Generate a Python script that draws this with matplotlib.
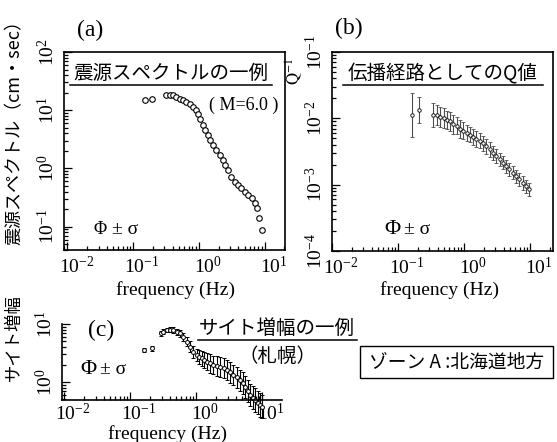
import numpy as np
import matplotlib
matplotlib.use('Agg')
import matplotlib.pyplot as plt
import matplotlib.transforms as mtrans
from matplotlib.lines import Line2D
from matplotlib.patches import Rectangle
from matplotlib.ticker import LogLocator

# (a) source spectrum
a_freq = [0.150, 0.197, 0.313, 0.361, 0.405, 0.456, 0.512, 0.575, 0.648, 0.727,
          0.816, 0.919, 0.973, 1.03, 1.16, 1.23, 1.38, 1.47, 1.64, 1.85,
          2.08, 2.34, 2.48, 2.78, 3.13, 3.52, 3.95, 4.45, 5.00, 5.61,
          6.32, 7.09, 7.6, 8.2, 9.2]
a_amp = [14.9, 15.5, 18.1, 18.6, 18.1, 16.9, 15.9, 14.9, 13.9, 12.7,
         11.4, 10.0, 8.77, 7.21, 5.53, 4.54, 3.73, 3.06, 2.51, 2.06,
         1.69, 1.39, 1.14, 0.935, 0.718, 0.589, 0.518, 0.454, 0.397, 0.349,
         0.306, 0.251, 0.206, 0.14, 0.088]

# (b) Q^-1 of the path
b_freq = [0.165, 0.210, 0.343,
          0.389, 0.437, 0.490, 0.550, 0.617, 0.692, 0.776, 0.871, 0.977, 1.096,
          1.230, 1.380, 1.549, 1.738, 1.950, 2.188, 2.455, 2.754, 3.090, 3.467,
          3.890, 4.365, 4.898, 5.495, 6.166, 6.918, 7.762, 8.710, 9.772]
b_q = [0.0113, 0.0134, 0.0113,
       0.0114, 0.0106, 0.0102, 0.0094, 0.0090, 0.0081, 0.0077, 0.0069, 0.0065, 0.0060,
       0.0057, 0.0052, 0.0049, 0.0046, 0.0042, 0.0038, 0.0034, 0.0030, 0.0027, 0.0024,
       0.00215, 0.0019, 0.0017, 0.00152, 0.00134, 0.0012, 0.00106, 0.00095, 0.00085]
b_sig = [0.33, 0.20, 0.18,
         0.15, 0.15, 0.15, 0.14, 0.14, 0.14, 0.13, 0.13, 0.13, 0.12,
         0.12, 0.12, 0.12, 0.11, 0.11, 0.11, 0.11, 0.11, 0.10, 0.10,
         0.10, 0.10, 0.10, 0.10, 0.10, 0.10, 0.10, 0.10, 0.10]

# (c) site amplification (Sapporo)
c_freq = [0.163, 0.213,
          0.292, 0.320, 0.360, 0.404, 0.453, 0.510, 0.573, 0.643, 0.723, 0.811,
          0.910, 1.03, 1.12, 1.22, 1.33, 1.45, 1.62, 1.83, 2.04, 2.31,
          2.60, 2.92, 3.27, 3.67, 4.12, 4.64, 5.07, 5.52, 6.03, 6.58,
          7.18, 7.83, 8.55, 9.33, 9.89]
c_amp = [3.56, 3.81,
         6.92, 7.36, 7.89, 8.0, 7.8, 7.36, 6.92, 6.04, 4.95, 4.06,
         3.33, 2.92, 2.72, 2.56, 2.40, 2.24, 2.09, 1.96, 1.91, 1.84,
         1.72, 1.61, 1.46, 1.32, 1.20, 1.08, 0.955, 0.83, 0.71, 0.60,
         0.54, 0.49, 0.44, 0.40, 0.375]
c_sig = [0.04, 0.04,
         0.04, 0.04, 0.04, 0.04, 0.05, 0.05, 0.06, 0.07, 0.08, 0.09,
         0.10, 0.11, 0.12, 0.13, 0.14, 0.15, 0.16, 0.16, 0.17, 0.17,
         0.17, 0.17, 0.18, 0.18, 0.18, 0.18, 0.19, 0.19, 0.19, 0.19,
         0.20, 0.20, 0.20, 0.20, 0.20]

freq_ticks = [1e-2, 1e-1, 1e0, 1e1]

plt.rcParams['font.family'] = ['Liberation Serif', 'Noto Sans CJK JP']
plt.rcParams['mathtext.fontset'] = 'stix'

W, H = 557, 442
CJK = ['Noto Sans CJK JP', 'DejaVu Sans']


def fx(x):
    return x / W


def fy(y):
    return 1 - y / H


def log_err(y, s):
    y = np.asarray(y)
    s = np.asarray(s)
    return [y - y * 10 ** (-s), y * 10 ** s - y]


fig = plt.figure(figsize=(W / 100, H / 100), dpi=100)
shift_x = mtrans.ScaledTranslation(9 / 100, 0, fig.dpi_scale_trans)


def style(ax, xlim, ylim, yticks, xpad=4):
    ax.set_xscale('log')
    ax.set_yscale('log')
    ax.set_xlim(*xlim)
    ax.set_ylim(*ylim)
    ax.set_xticks(freq_ticks)
    ax.set_yticks(yticks)
    minor = LogLocator(base=10, subs=np.arange(2, 10), numticks=30)
    ax.xaxis.set_minor_locator(minor)
    ax.yaxis.set_minor_locator(LogLocator(base=10, subs=np.arange(2, 10), numticks=30))
    ax.set_xlim(*xlim)
    ax.set_ylim(*ylim)
    ax.tick_params(which='both', direction='in', top=False, right=False,
                   labelsize=14, width=0.9)
    ax.tick_params(which='major', length=6, pad=4)
    ax.tick_params(axis='x', which='major', pad=xpad)
    ax.tick_params(which='minor', length=3)
    for lab in ax.get_yticklabels():
        lab.set_rotation(90)
        lab.set_va('center')
    for lab in ax.get_xticklabels():
        lab.set_transform(lab.get_transform() + shift_x)
    for sp in ax.spines.values():
        sp.set_linewidth(1.2)


ax_a = fig.add_axes([fx(64), fy(250), (285 - 64) / W, (250 - 52) / H])
ax_b = fig.add_axes([fx(332), fy(251), (553 - 332) / W, (251 - 52) / H])
ax_c = fig.add_axes([fx(62), fy(400), (282 - 62) / W, (400 - 324) / H])

ax_a.plot(a_freq, a_amp, 'o', ms=4, mfc='white', mec='black', mew=0.8)
style(ax_a, (10 ** -2.05, 10 ** 1.31), (10 ** -1.4, 10 ** 2), [1e-1, 1e0, 1e1, 1e2])

ax_b.errorbar(b_freq, b_q, yerr=log_err(b_q, b_sig), fmt='o', ms=2.5,
              mfc='white', mec='black', mew=0.6, ecolor='0.3', elinewidth=0.8,
              capsize=1.2, capthick=0.5)
style(ax_b, (10 ** -2, 10 ** 1.35), (1e-4, 1e-1), [1e-4, 1e-3, 1e-2, 1e-1])

ax_c.errorbar(c_freq, c_amp, yerr=log_err(c_amp, c_sig), fmt='o', ms=2.8,
              mfc='white', mec='black', mew=0.7, ecolor='black', elinewidth=0.8,
              capsize=1.2, capthick=0.5, clip_on=False)
style(ax_c, (10 ** -2.03, 10 ** 1.30), (10 ** -0.31, 10 ** 1), [1e0, 1e1], xpad=2)
ax_c.spines['top'].set_visible(False)
ax_c.spines['right'].set_visible(False)

# x labels
for x, y in [(175, 290), (440, 290), (167, 434)]:
    fig.text(fx(x), fy(y), 'frequency (Hz)', fontsize=14, ha='center', va='center')

# panel letters
fig.text(fx(90), fy(30), '(a)', fontsize=17, ha='center', va='center')
fig.text(fx(349), fy(28), '(b)', fontsize=17, ha='center', va='center')
fig.text(fx(101), fy(330), '(c)', fontsize=17, ha='center', va='center')

# y labels
fig.text(fx(15), fy(128), '震源スペクトル（cm・sec）', fontsize=13, family=CJK,
         rotation=90, ha='center', va='center')
fig.text(fx(294), fy(72), r'$\mathrm{Q}^{-1}$', fontsize=12,
         rotation=90, ha='center', va='center')
fig.text(fx(14), fy(338), 'サイト増幅', fontsize=12.5, family=CJK,
         rotation=90, ha='center', va='center')

# titles with underline
titles = [('震源スペクトルの一例', 171, 73, 70, 272, 85),
          ('伝播経路としてのQ値', 443, 73, 343, 543, 85),
          ('サイト増幅の一例', 277, 328, 198, 357, 340)]
for txt, x, y, x0, x1, yl in titles:
    fig.text(fx(x), fy(y), txt, fontsize=14, family=CJK, ha='center', va='center')
    fig.add_artist(Line2D([fx(x0), fx(x1)], [fy(yl), fy(yl)], color='black', lw=1.1))

fig.text(fx(244), fy(105), '( M=6.0 )', fontsize=13, ha='center', va='center')
fig.text(fx(277), fy(356), '（札幌）', fontsize=14, family=CJK, ha='center', va='center')

# ±sigma keys
for x, y, fs in [(100, 229, 13), (392, 229, 16), (88, 370, 16)]:
    fig.text(fx(x), fy(y), 'Φ', fontsize=fs, ha='center', va='center')
    fig.text(fx(x + 12), fy(y), '± σ', fontsize=14, ha='left', va='center')

# zone box
fig.add_artist(Rectangle((fx(360), fy(378)), (553 - 360) / W, (378 - 346) / H,
                         fill=False, ec='black', lw=1.0))
fig.text(fx(457), fy(362), 'ゾーン A :北海道地方', fontsize=13.5, family=CJK,
         ha='center', va='center')

fig.savefig('out.png', dpi=100)
